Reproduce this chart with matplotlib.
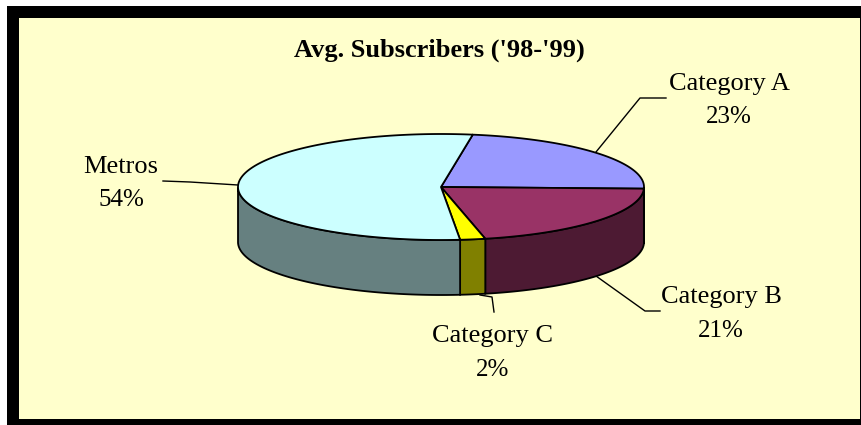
"""Avg. Subscribers 3-D style pie, drawn on a pixel-sized axes."""

import matplotlib.pyplot as plt
import numpy as np

labels = ["Category A", "Category B", "Category C", "Metros"]
shares = [23, 21, 2, 54]
top_colors = ["#9999ff", "#993366", "#ffff00", "#ccffff"]
side_colors = ["#4d4d80", "#4d1a33", "#808000", "#668080"]

CX, CY, RX, RY, DEPTH = 441, 187, 203, 53, 55
START = 81  # degrees, going clockwise

plt.rcParams["font.family"] = ["Liberation Serif", "DejaVu Serif"]

fig = plt.figure(figsize=(8.61, 4.25), dpi=100, facecolor="white")
ax = fig.add_axes([0, 0, 1, 1])
ax.set_xlim(0, 861)
ax.set_ylim(425, 0)
ax.axis("off")

# black frame with the pale yellow panel inside
ax.fill([7, 861, 861, 7], [6, 6, 425, 425], color="black", lw=0)
ax.fill([19, 860, 860, 19], [18, 18, 419, 419], color="#ffffcc", lw=0)


def point(t):
    return CX + RX * np.cos(t), CY - RY * np.sin(t)


edges = START - np.cumsum([0] + shares) * 3.6

# side walls: only the front half (sin < 0) shows
for i in range(len(shares)):
    a, b = np.radians(edges[i]), np.radians(edges[i + 1])
    t = np.linspace(a, b, 200)
    t = t[np.sin(t) <= 0]
    if len(t) == 0:
        continue
    x, y = point(t)
    ax.fill(np.r_[x, x[::-1]], np.r_[y, y[::-1] + DEPTH],
            fc=side_colors[i], ec="black", lw=1.3, zorder=2)

# top faces
for i in range(len(shares)):
    t = np.radians(np.linspace(edges[i], edges[i + 1], 200))
    x, y = point(t)
    ax.fill(np.r_[CX, x], np.r_[CY, y], fc=top_colors[i], ec="black",
            lw=1.3, zorder=3)

# leader lines
leaders = [
    ([666, 640, 596], [98, 98, 152]),
    ([596, 645, 660], [276, 311, 311]),
    ([480, 492, 494], [295, 297, 312]),
    ([163, 190, 238], [181, 182, 185]),
]
for lx, ly in leaders:
    ax.plot(lx, ly, color="black", lw=1.0, zorder=1)

ax.text(439, 50, "Avg. Subscribers ('98-'99)", ha="center", va="center",
        fontsize=19, fontweight="bold", color="black")

label_pos = [(729, 84), (721, 297), (493, 336), (121, 167)]
pct_pos = [(729, 117), (721, 331), (493, 370), (121, 200)]
for name, share, lp, pp in zip(labels, shares, label_pos, pct_pos):
    ax.text(lp[0], lp[1], name, ha="center", va="center", fontsize=19)
    ax.text(pp[0], pp[1], f"{share}%", ha="center", va="center", fontsize=18)

fig.savefig("out.png", dpi=100, facecolor="white")
